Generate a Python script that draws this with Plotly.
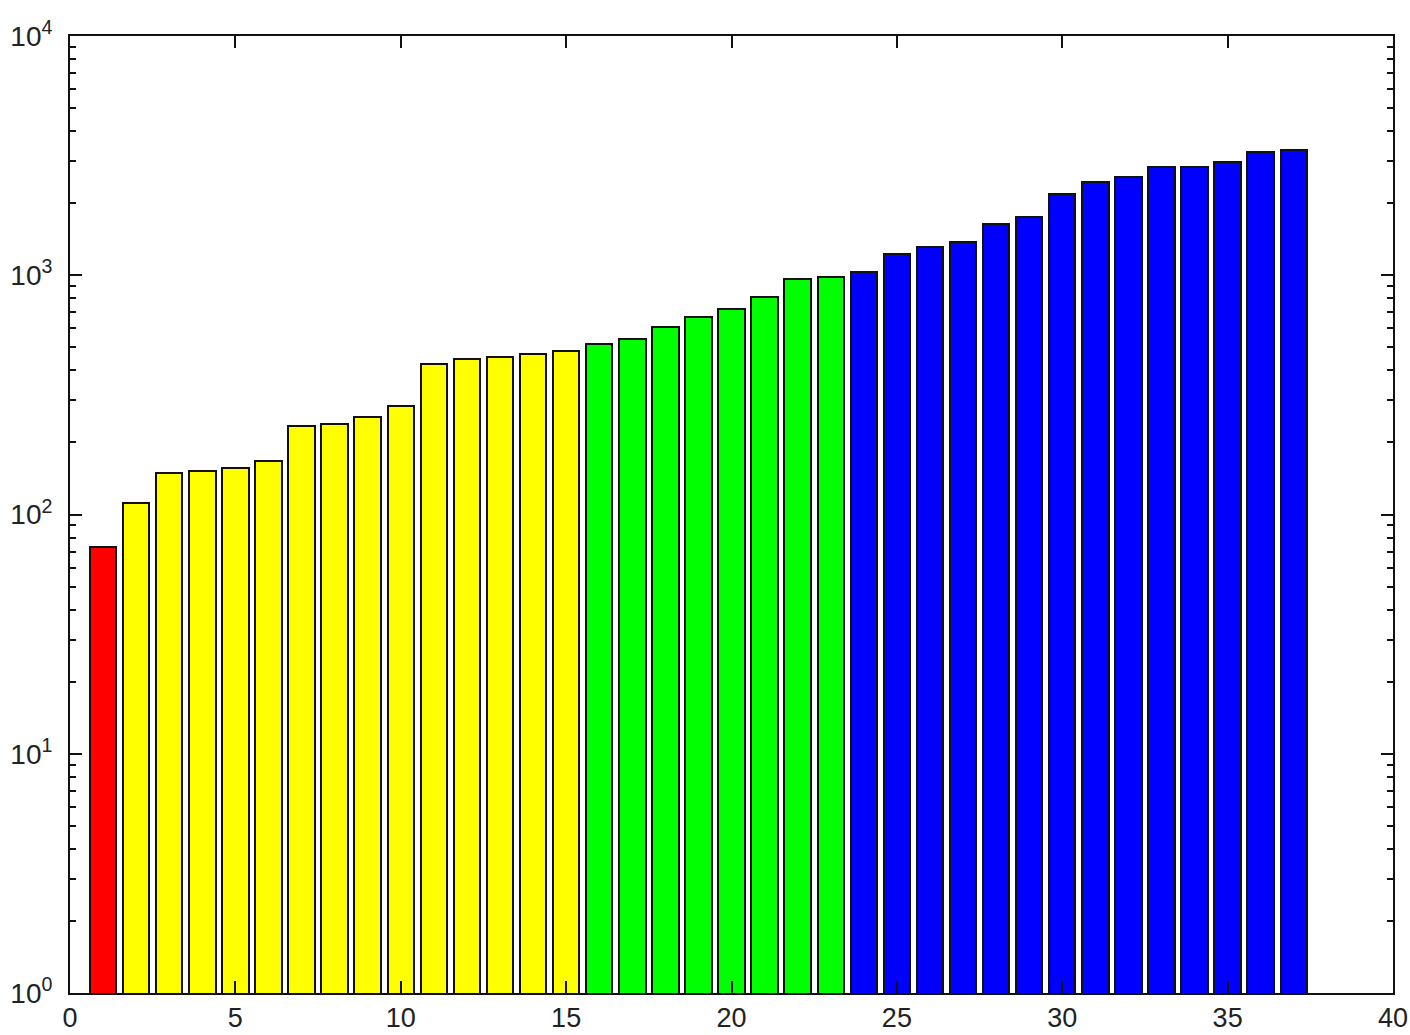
import plotly.graph_objects as go

# ---- data ----
bar_index = list(range(1, 38))
bar_values = [73, 112, 149, 152, 156, 167, 234, 239, 256, 284,
              426, 447, 457, 467, 481, 516, 542, 610, 671, 721,
              813, 962, 986, 1035, 1227, 1316, 1381, 1633, 1758, 2180,
              2454, 2575, 2827, 2840, 2966, 3275, 3342]
bar_group = (["A"] * 1 + ["B"] * 14 + ["C"] * 8 + ["D"] * 14)
x_tick_vals = [0, 5, 10, 15, 20, 25, 30, 35, 40]
y_tick_vals = [1, 10, 100, 1000, 10000]
y_tick_text = ["10<sup>0</sup>", "10<sup>1</sup>", "10<sup>2</sup>", "10<sup>3</sup>", "10<sup>4</sup>"]

# ---- style ----
group_color = {"A": "#ff0000", "B": "#ffff00", "C": "#00ff00", "D": "#0000ff"}
colors = [group_color[g] for g in bar_group]
font = dict(family="Liberation Sans, Arial, sans-serif", size=28, color="#222222")
xfont = dict(family="Liberation Sans, Arial, sans-serif", size=27, color="#222222")

fig = go.Figure(go.Bar(
    x=bar_index, y=bar_values, width=0.8,
    marker=dict(color=colors, line=dict(color="#111111", width=2)),
))

fig.update_layout(
    width=1410, height=1035,
    margin=dict(l=70, r=17, t=36, b=42, autoexpand=False),
    paper_bgcolor="white", plot_bgcolor="white",
    showlegend=False,
    font=font,
    bargap=0,
)
fig.update_xaxes(
    range=[0, 40], tickvals=x_tick_vals, ticktext=[str(v) for v in x_tick_vals],
    showgrid=False, zeroline=False, automargin=False,
    showline=True, linecolor="#111111", linewidth=2, mirror="ticks",
    ticks="inside", ticklen=12, tickwidth=2, tickcolor="#111111",
    ticklabelstandoff=0, tickfont=xfont,
)
fig.update_yaxes(
    type="log", range=[0, 4], tickvals=y_tick_vals, ticktext=y_tick_text,
    showgrid=False, zeroline=False, automargin=False,
    showline=True, linecolor="#111111", linewidth=2, mirror="ticks",
    ticks="inside", ticklen=12, tickwidth=2, tickcolor="#111111",
    minor=dict(ticks="inside", ticklen=6, tickwidth=1.5, tickcolor="#111111",
               dtick="D1", showgrid=False),
    ticklabelstandoff=10, tickfont=font,
)

fig.write_html("out.html")
